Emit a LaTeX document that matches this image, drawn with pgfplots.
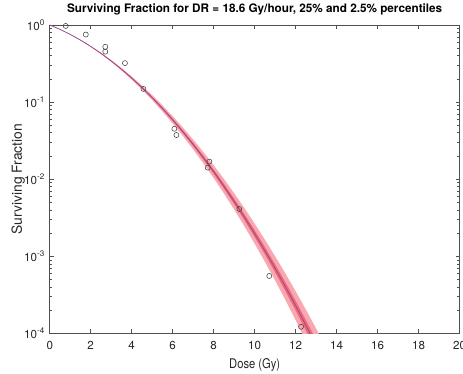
\documentclass[border=0pt]{standalone}
\usepackage{fontspec}
\setmainfont{TeX Gyre Heros}
\newfontfamily\narrowfont{TeX Gyre Heros}[FakeStretch=0.84]
\usepackage{pgfplots}
\pgfplotsset{compat=1.18}
\definecolor{outerband}{RGB}{250,168,175}
\definecolor{innerband}{RGB}{238,105,122}
\definecolor{medline}{RGB}{140,70,150}
\definecolor{axgray}{RGB}{80,80,80}
\begin{document}
\begin{tikzpicture}
\begin{axis}[
  at={(0,0)}, anchor=south west,
  scale only axis,
  width=307.5pt, height=231.4pt,
  ymode=log,
  xmin=0, xmax=20, ymin=1e-4, ymax=1,
  xtick={0,2,...,20},
  ytick={1e-4,1e-3,1e-2,1e-1,1},
  yticklabels={10\textsuperscript{-4},10\textsuperscript{-3},10\textsuperscript{-2},10\textsuperscript{-1},10\textsuperscript{0}},
  /pgf/number format/assume math mode=true,
  tick align=inside,
  major tick length=3pt,
  minor tick length=1.8pt,
  axis line style={axgray, line width=0.4pt},
  tick style={axgray, line width=0.4pt},
  tick label style={font=\fontsize{8.7pt}{10pt}\selectfont, text=black!85},
  xticklabel style={yshift=-2.5pt},
  xlabel={Dose (Gy)},
  ylabel={Surviving Fraction},
  xlabel style={font=\narrowfont\fontsize{10pt}{11pt}\selectfont, text=black!85,
    at={(axis description cs:0.5,-0.115)}, anchor=base},
  ylabel style={font=\fontsize{10.4pt}{11pt}\selectfont, text=black!85,
    at={(axis description cs:-0.0766,0.5)}, anchor=center},
  title={Surviving Fraction for DR = 18.6 Gy/hour, 25\% and 2.5\% percentiles},
  title style={font=\bfseries\fontsize{8.8pt}{9pt}\selectfont,
    at={(axis description cs:0.5,1)}, anchor=base, yshift=3.2pt},
  clip=true,
]
% outer band (2.5% / 97.5%)
\addplot[draw=none, fill=outerband] coordinates {
(0,1) (0.5,0.8767) (1,0.7555) (1.5,0.6397) (2,0.5323) (2.5,0.4354) (3,0.3500) (3.5,0.2764)
(4,0.2146) (4.5,0.1637) (5,0.1228) (5.5,0.09046) (6,0.06551) (6.5,0.04662) (7,0.03261)
(7.5,0.02242) (8,0.01514) (8.5,0.010053) (9,0.006559) (9.5,0.004206) (10,0.002650)
(10.5,0.0016415) (11,0.0009991) (11.5,0.0005976) (12,0.0003513) (12.5,0.0002030)
(13,0.0001152) (13.5,0.0000643) (14,0.00003526)
(14,0.00001088) (13.5,0.00002154) (13,0.0000418) (12.5,0.00007948) (12,0.0001481)
(11.5,0.0002703) (11,0.0004834) (10.5,0.0008471) (10,0.001455) (9.5,0.002447)
(9,0.004035) (8.5,0.006517) (8,0.01031) (7.5,0.01600) (7,0.02430) (6.5,0.03618)
(6,0.05278) (5.5,0.07544) (5,0.1057) (4.5,0.1450) (4,0.1950) (3.5,0.2568) (3,0.3316)
(2.5,0.4194) (2,0.5197) (1.5,0.6311) (1,0.7509) (0.5,0.8754) (0,1)
} --cycle;
% inner band (25% / 75%)
\addplot[draw=none, fill=innerband] coordinates {
(0,1) (0.5,0.8763) (1,0.7540) (1.5,0.6368) (2,0.5281) (2.5,0.4300) (3,0.3437) (3.5,0.2697)
(4,0.2078) (4.5,0.1572) (5,0.1168) (5.5,0.08515) (6,0.06096) (6.5,0.04284) (7,0.02957)
(7.5,0.02003) (8,0.01332) (8.5,0.008701) (9,0.005578) (9.5,0.003511) (10,0.002170)
(10.5,0.0013166) (11,0.0007843) (11.5,0.0004587) (12,0.0002634) (12.5,0.0001485)
(13,0.0000822) (13.5,0.00004466) (14,0.00002383)
(14,0.0000161) (13.5,0.00003102) (13,0.0000586) (12.5,0.0001086) (12,0.0001975)
(11.5,0.0003521) (11,0.0006158) (10.5,0.0010561) (10,0.001777) (9.5,0.002932)
(9,0.004744) (8.5,0.007530) (8,0.01172) (7.5,0.01790) (7,0.02681) (6.5,0.03937)
(6,0.05672) (5.5,0.08015) (5,0.1111) (4.5,0.1510) (4,0.2013) (3.5,0.2632) (3,0.3376)
(2.5,0.4246) (2,0.5239) (1.5,0.6340) (1,0.7524) (0.5,0.8759) (0,1)
} --cycle;
% median curve
\addplot[medline, line width=0.5pt, smooth, mark=none] coordinates {
(0,1) (0.5,0.8761) (1,0.7532) (1.5,0.6354) (2,0.5260) (2.5,0.4273) (3,0.34063) (3.5,0.26646)
(4,0.20455) (4.5,0.15408) (5,0.11389) (5.5,0.08261) (6,0.05880) (6.5,0.04107) (7,0.028152)
(7.5,0.018935) (8,0.012497) (8.5,0.0080942) (9,0.0051444) (9.5,0.0032084) (10,0.0019635)
(10.5,0.0011792) (11,0.00069496) (11.5,0.00040190) (12,0.00022808) (12.5,0.00012701)
(13,0.000069406) (13.5,0.000037218) (14,0.000019585)
};
% data points
\addplot[only marks, mark=o, mark size=1.9pt, mark options={draw=black!75, line width=0.4pt}] coordinates {
(0.78,0.97) (1.76,0.75) (2.71,0.52) (2.71,0.45) (3.67,0.32) (4.57,0.148)
(6.08,0.045) (6.18,0.0374) (7.79,0.0169) (7.71,0.0141) (9.25,0.0041)
(10.71,0.000556) (12.26,0.000122)
};
\end{axis}
\pgfresetboundingbox
\path (-37.3pt,-30.4pt) rectangle (310pt,250.1pt);
\end{tikzpicture}
\end{document}
